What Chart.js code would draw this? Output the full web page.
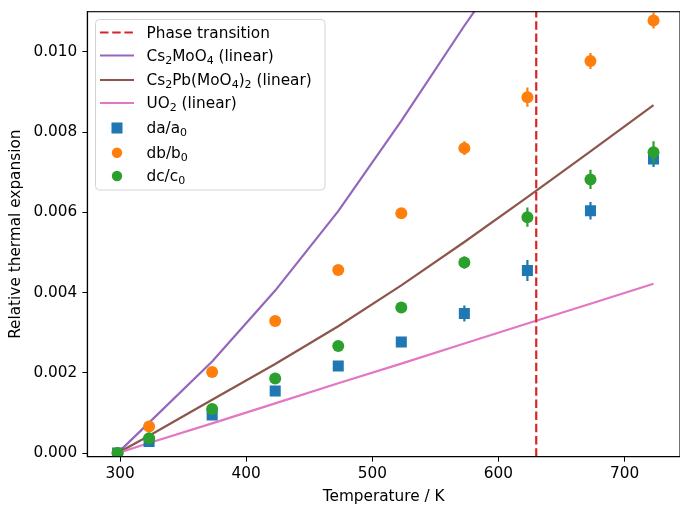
<!DOCTYPE html>
<html>
<head>
<meta charset="utf-8">
<script src="https://cdn.jsdelivr.net/npm/chart.js@4.4.1/dist/chart.umd.min.js"></script>
<style>
  body { margin: 0; background: #fff; }
  #grafico { display: block; }
</style>
</head>
<body>
<canvas id="grafico" width="680" height="505"></canvas>
<script>
// temperaturas medidas (K)
var temperaturas = [298, 323, 373, 423, 473, 523, 573, 623, 673, 723];

// expansão relativa dos parâmetros de rede
var da = [0, 0.00029, 0.00095, 0.00155, 0.00217, 0.00277, 0.00348, 0.00455, 0.00604, 0.00733];
var db = [0, 0.00066, 0.00202, 0.00329, 0.00456, 0.00598, 0.00760, 0.00887, 0.00977, 0.01078];
var dc = [0, 0.00037, 0.00110, 0.00186, 0.00267, 0.00363, 0.00475, 0.00588, 0.00682, 0.00750];

// incertezas
var errDa = [0, 0.00003, 0.00004, 0.00004, 0.00005, 0.00008, 0.00020, 0.00026, 0.00022, 0.00020];
var errDb = [0, 0.00003, 0.00004, 0.00005, 0.00006, 0.00008, 0.00017, 0.00024, 0.00020, 0.00020];
var errDc = [0, 0.00003, 0.00004, 0.00005, 0.00006, 0.00008, 0.00015, 0.00024, 0.00024, 0.00027];

// curvas da literatura (expansão linear)
var cs2moo4 = [0, 0.00076, 0.00228, 0.00405, 0.00603, 0.00828, 0.01065, 0.01290, 0.01540, 0.01790];
var cs2pbmoo42 = [0, 0.00043, 0.00133, 0.00222, 0.00316, 0.00418, 0.00526, 0.00638, 0.00752, 0.00867];
var uo2 = [0, 0.00025, 0.00074, 0.00124, 0.00174, 0.00223, 0.00273, 0.00323, 0.00372, 0.00422];

var transicao = 630;

var xTicks = [300, 400, 500, 600, 700];
var yTicks = [0, 0.002, 0.004, 0.006, 0.008, 0.010];
var xMin = 274, xMax = 744;
var yMin = -0.00009, yMax = 0.011;

var fonte = 'DejaVu Sans';
var tam = 15.3;

function pontos(ys) {
    return temperaturas.map(function (t, i) { return { x: t, y: ys[i] }; });
}

// sem folga extra para os rótulos: a área do gráfico fica onde a gente manda
function semFolga(s) {
    s.paddingTop = 0;
    s.paddingBottom = 0;
    s.paddingLeft = 0;
    s.paddingRight = 0;
}

// barras de erro verticais, desenhadas antes dos marcadores
var barrasErro = {
    id: 'barrasErro',
    beforeDatasetDraw: function (chart, args) {
        var ds = chart.data.datasets[args.index];
        if (!ds.erros) return;
        var ctx = chart.ctx;
        var sx = chart.scales.x, sy = chart.scales.y;
        ctx.save();
        ctx.beginPath();
        ctx.rect(chart.chartArea.left, chart.chartArea.top,
            chart.chartArea.right - chart.chartArea.left, chart.chartArea.bottom - chart.chartArea.top);
        ctx.clip();
        ctx.strokeStyle = ds.backgroundColor;
        ctx.lineWidth = 2.2;
        ds.data.forEach(function (p, i) {
            var e = ds.erros[i];
            if (!e) return;
            var px = sx.getPixelForValue(p.x);
            ctx.beginPath();
            ctx.moveTo(px, sy.getPixelForValue(p.y - e));
            ctx.lineTo(px, sy.getPixelForValue(p.y + e));
            ctx.stroke();
        });
        ctx.restore();
    }
};

// moldura completa dos eixos
var moldura = {
    id: 'moldura',
    afterDraw: function (chart) {
        var a = chart.chartArea, ctx = chart.ctx;
        ctx.save();
        ctx.strokeStyle = '#000';
        ctx.lineWidth = 1.1;
        ctx.strokeRect(a.left, a.top, a.right - a.left, a.bottom - a.top);
        ctx.restore();
    }
};

// texto com subscritos: partes [texto, subscrito?]
function escreve(ctx, partes, x, y) {
    partes.forEach(function (p) {
        if (p[1]) {
            ctx.font = (tam * 0.72) + 'px "' + fonte + '"';
            ctx.fillText(p[0], x, y + 3);
        } else {
            ctx.font = tam + 'px "' + fonte + '"';
            ctx.fillText(p[0], x, y);
        }
        x += ctx.measureText(p[0]).width;
    });
}

var itensLegenda = [
    { tipo: 'tracejado', cor: '#d62728', y: 32.5, texto: [['Phase transition']] },
    { tipo: 'linha', cor: '#9467bd', y: 55.5, texto: [['Cs'], ['2', 1], ['MoO'], ['4', 1], [' (linear)']] },
    { tipo: 'linha', cor: '#8c564b', y: 80, texto: [['Cs'], ['2', 1], ['Pb(MoO'], ['4', 1], [')'], ['2', 1], [' (linear)']] },
    { tipo: 'linha', cor: '#e377c2', y: 103, texto: [['UO'], ['2', 1], [' (linear)']] },
    { tipo: 'quadrado', cor: '#1f77b4', y: 128, texto: [['da/a'], ['0', 1]] },
    { tipo: 'circulo', cor: '#ff7f0e', y: 152.7, texto: [['db/b'], ['0', 1]] },
    { tipo: 'circulo', cor: '#2ca02c', y: 176, texto: [['dc/c'], ['0', 1]] }
];

var legenda = {
    id: 'legenda',
    afterDraw: function (chart) {
        var ctx = chart.ctx;
        ctx.save();
        ctx.beginPath();
        ctx.roundRect(95.5, 19.5, 229.5, 170.5, 4);
        ctx.fillStyle = 'rgba(255,255,255,0.8)';
        ctx.fill();
        ctx.strokeStyle = '#d5d5d5';
        ctx.lineWidth = 1;
        ctx.stroke();

        itensLegenda.forEach(function (it) {
            ctx.strokeStyle = it.cor;
            ctx.fillStyle = it.cor;
            ctx.lineWidth = 2.2;
            if (it.tipo === 'tracejado' || it.tipo === 'linha') {
                ctx.setLineDash(it.tipo === 'tracejado' ? [8.5, 3.7] : []);
                ctx.beginPath();
                ctx.moveTo(100, it.y);
                ctx.lineTo(134, it.y);
                ctx.stroke();
                ctx.setLineDash([]);
            } else if (it.tipo === 'quadrado') {
                ctx.fillRect(111.5, it.y - 5.5, 11, 11);
            } else {
                ctx.beginPath();
                ctx.arc(117, it.y, 5.2, 0, Math.PI * 2);
                ctx.fill();
            }
            ctx.fillStyle = '#000';
            ctx.textBaseline = 'alphabetic';
            escreve(ctx, it.texto, 146.5, it.y + 5.4);
        });
        ctx.restore();
    }
};

new Chart(document.getElementById('grafico'), {
    type: 'scatter',
    data: {
        datasets: [
            {
                label: 'dc/c0', data: pontos(dc), erros: errDc,
                backgroundColor: '#2ca02c', borderColor: '#2ca02c',
                pointStyle: 'circle', pointRadius: 6, borderWidth: 0, order: 1
            },
            {
                label: 'db/b0', data: pontos(db), erros: errDb,
                backgroundColor: '#ff7f0e', borderColor: '#ff7f0e',
                pointStyle: 'circle', pointRadius: 6, borderWidth: 0, order: 2
            },
            {
                label: 'da/a0', data: pontos(da), erros: errDa,
                backgroundColor: '#1f77b4', borderColor: '#1f77b4',
                pointStyle: 'rect', pointRadius: 7.8, borderWidth: 0, order: 3
            },
            {
                label: 'UO2 (linear)', data: pontos(uo2), showLine: true,
                borderColor: '#e377c2', borderWidth: 2.2, pointRadius: 0, order: 4
            },
            {
                label: 'Cs2Pb(MoO4)2 (linear)', data: pontos(cs2pbmoo42), showLine: true,
                borderColor: '#8c564b', borderWidth: 2.2, pointRadius: 0, order: 5
            },
            {
                label: 'Cs2MoO4 (linear)', data: pontos(cs2moo4), showLine: true,
                borderColor: '#9467bd', borderWidth: 2.2, pointRadius: 0, order: 6
            },
            {
                label: 'Phase transition', data: [{ x: transicao, y: yMin }, { x: transicao, y: yMax }], showLine: true,
                borderColor: '#d62728', borderWidth: 2.2, borderDash: [8.5, 3.7], pointRadius: 0, order: 0
            }
        ]
    },
    options: {
        responsive: false,
        devicePixelRatio: 1,
        animation: false,
        layout: { autoPadding: false, padding: { left: 0, top: 11.7, right: 0, bottom: 0 } },
        plugins: {
            legend: { display: false },
            tooltip: { enabled: false }
        },
        scales: {
            x: {
                type: 'linear', min: xMin, max: xMax,
                afterBuildTicks: function (s) { s.ticks = xTicks.map(function (v) { return { value: v }; }); },
                afterFit: function (s) { s.height = 48.3; semFolga(s); },
                grid: { drawOnChartArea: false, drawTicks: true, tickLength: 5, color: '#000', tickWidth: 1 },
                border: { display: true, color: '#000', width: 1.1 },
                ticks: { color: '#000', padding: 3, maxRotation: 0, font: { family: fonte, size: tam } },
                title: { display: true, text: 'Temperature / K', color: '#000', padding: { top: 0, bottom: -1.5 }, font: { family: fonte, size: tam } }
            },
            y: {
                type: 'linear', min: yMin, max: yMax,
                afterBuildTicks: function (s) { s.ticks = yTicks.map(function (v) { return { value: v }; }); },
                afterFit: function (s) { s.width = 87.3; semFolga(s); },
                grid: { drawOnChartArea: false, drawTicks: true, tickLength: 5, color: '#000', tickWidth: 1 },
                border: { display: true, color: '#000', width: 1.1 },
                ticks: {
                    color: '#000', padding: 5, font: { family: fonte, size: tam },
                    callback: function (v) { return v.toFixed(3); }
                },
                title: { display: true, text: 'Relative thermal expansion', color: '#000', padding: { top: 6.4, bottom: 0 }, font: { family: fonte, size: tam } }
            }
        }
    },
    plugins: [barrasErro, moldura, legenda]
});
</script>
</body>
</html>
